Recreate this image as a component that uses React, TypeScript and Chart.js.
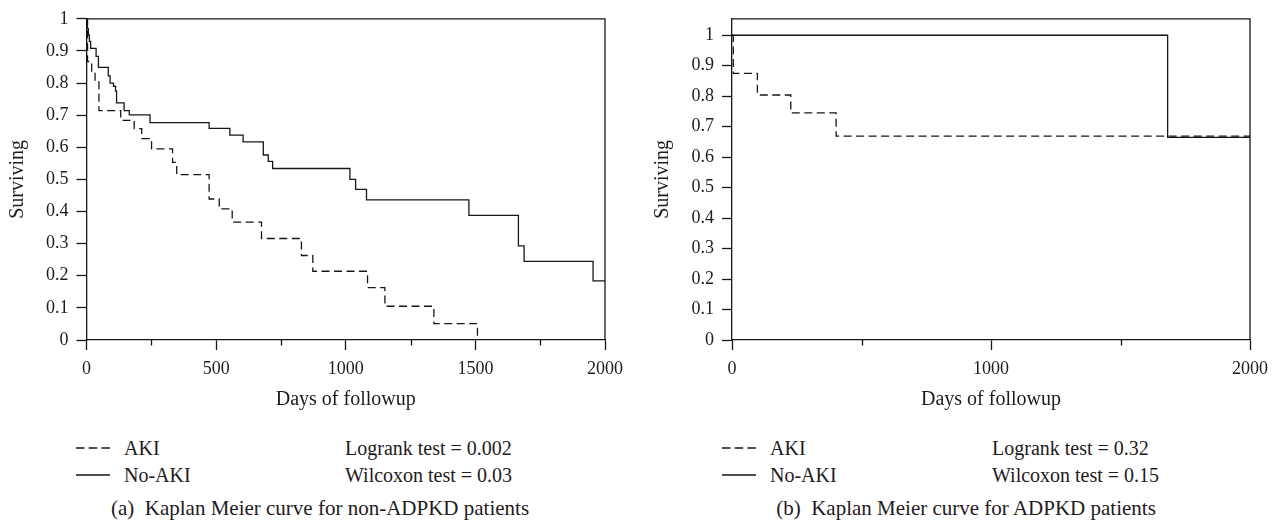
import React, { useEffect, useRef } from "react";
import { Chart, registerables } from "chart.js";
Chart.register(...registerables);

// ---------- Panel (a): non-ADPKD patients ----------
const A_AKI_DAYS = [0, 4, 20, 33, 48, 132, 184, 213, 251, 332, 348, 473, 512, 562, 675, 829, 873, 1084, 1151, 1340, 1508];
const A_AKI_SURV = [1, 0.867, 0.837, 0.808, 0.714, 0.684, 0.658, 0.627, 0.595, 0.553, 0.515, 0.439, 0.408, 0.367, 0.316, 0.263, 0.214, 0.163, 0.105, 0.051, 0];
const A_NOAKI_DAYS = [0, 3, 7, 11, 16, 37, 46, 84, 91, 104, 112, 116, 145, 165, 245, 473, 553, 604, 682, 701, 718, 1016, 1038, 1080, 1475, 1666, 1688, 1954, 2000];
const A_NOAKI_SURV = [1, 0.97, 0.95, 0.93, 0.908, 0.883, 0.849, 0.822, 0.8, 0.79, 0.775, 0.738, 0.714, 0.701, 0.677, 0.659, 0.638, 0.617, 0.576, 0.556, 0.534, 0.5, 0.469, 0.436, 0.388, 0.293, 0.245, 0.184, 0.184];
const A_X_MAJOR = [0, 500, 1000, 1500, 2000];
const A_X_MINOR = [250, 750, 1250, 1750];
const A_Y_MAX = 1;
const A_LOGRANK = "Logrank test = 0.002";
const A_WILCOXON = "Wilcoxon test = 0.03";
const A_CAPTION = "(a)\u00A0\u00A0Kaplan Meier curve for non-ADPKD patients";

// ---------- Panel (b): ADPKD patients ----------
const B_AKI_DAYS = [0, 5, 98, 227, 402, 2000];
const B_AKI_SURV = [1, 0.875, 0.804, 0.745, 0.669, 0.669];
const B_NOAKI_DAYS = [0, 1682, 2000];
const B_NOAKI_SURV = [1, 0.665, 0.665];
const B_X_MAJOR = [0, 1000, 2000];
const B_X_MINOR = [500, 1500];
const B_Y_MAX = 1.054;
const B_LOGRANK = "Logrank test = 0.32";
const B_WILCOXON = "Wilcoxon test = 0.15";
const B_CAPTION = "(b)\u00A0\u00A0Kaplan Meier curve for ADPKD patients";

// ---------- shared ----------
const Y_TICKS = [0, 0.1, 0.2, 0.3, 0.4, 0.5, 0.6, 0.7, 0.8, 0.9, 1];
const SERIES_NAMES = ["AKI", "No-AKI"];
const X_TITLE = "Days of followup";
const Y_TITLE = "Surviving";

const FONT = "'Liberation Serif', 'Times New Roman', serif";
const TEXT = "#1f1b1c";
const LINE = "#161616";
const DASH = [8, 4.5];

function toPoints(xs: number[], ys: number[]) {
  return xs.map((x, i) => ({ x, y: ys[i] }));
}

type PanelProps = {
  left: number;
  akiDays: number[];
  akiSurv: number[];
  noDays: number[];
  noSurv: number[];
  xMajor: number[];
  xMinor: number[];
  yMax: number;
  yAxisWidth: number;
  padRight: number;
  yTitlePad: number;
};

const W = 640;
const H = 420;

function Panel(p: PanelProps) {
  const ref = useRef<HTMLCanvasElement | null>(null);
  useEffect(() => {
    if (!ref.current) return;
    const framePlugin = {
      id: "frame",
      afterDraw(chart: any) {
        const { ctx, chartArea } = chart;
        const xs = chart.scales.x;
        ctx.save();
        ctx.strokeStyle = LINE;
        ctx.lineWidth = 1.3;
        ctx.beginPath();
        ctx.moveTo(chartArea.left, chartArea.top);
        ctx.lineTo(chartArea.right, chartArea.top);
        ctx.lineTo(chartArea.right, chartArea.bottom);
        ctx.stroke();
        for (const v of p.xMinor) {
          const px = Math.round(xs.getPixelForValue(v)) + 0.5;
          ctx.beginPath();
          ctx.moveTo(px, chartArea.bottom);
          ctx.lineTo(px, chartArea.bottom + 5.5);
          ctx.stroke();
        }
        ctx.restore();
      },
    };
    const chart = new Chart(ref.current, {
      type: "line",
      data: {
        datasets: [
          {
            label: SERIES_NAMES[0],
            data: toPoints(p.akiDays, p.akiSurv),
            borderColor: LINE,
            borderWidth: 1.3,
            borderDash: DASH,
            stepped: true,
            pointRadius: 0,
            fill: false,
          },
          {
            label: SERIES_NAMES[1],
            data: toPoints(p.noDays, p.noSurv),
            borderColor: LINE,
            borderWidth: 1.3,
            stepped: true,
            pointRadius: 0,
            fill: false,
          },
        ],
      },
      options: {
        animation: false,
        responsive: false,
        maintainAspectRatio: false,
        layout: { padding: { left: 0, top: 13, right: p.padRight, bottom: 0 } },
        plugins: { legend: { display: false }, tooltip: { enabled: false } },
        scales: {
          x: {
            type: "linear",
            min: 0,
            max: 2000,
            afterBuildTicks: (s: any) => {
              s.ticks = p.xMajor.map((v) => ({ value: v }));
            },
            afterFit: (s: any) => {
              s.height = H - 340;
            },
            ticks: {
              color: TEXT,
              font: { family: FONT, size: 18 },
              padding: 8,
              maxRotation: 0,
              autoSkip: false,
              callback: (v: any) => String(v),
            },
            grid: {
              display: true,
              drawOnChartArea: false,
              drawTicks: true,
              tickLength: 10,
              tickColor: LINE,
              tickWidth: 1.3,
            },
            border: { display: true, color: LINE, width: 1.3 },
            title: {
              display: true,
              text: X_TITLE,
              color: TEXT,
              font: { family: FONT, size: 20 },
              padding: { top: 0, bottom: 8 },
            },
          },
          y: {
            type: "linear",
            min: 0,
            max: p.yMax,
            afterBuildTicks: (s: any) => {
              s.ticks = Y_TICKS.map((v) => ({ value: v }));
            },
            afterFit: (s: any) => {
              s.width = p.yAxisWidth;
            },
            ticks: {
              color: TEXT,
              font: { family: FONT, size: 18 },
              padding: 8,
              autoSkip: false,
              callback: (v: any) => String(Math.round(Number(v) * 10) / 10),
            },
            grid: {
              display: true,
              drawOnChartArea: false,
              drawTicks: true,
              tickLength: 10,
              tickColor: LINE,
              tickWidth: 1.3,
            },
            border: { display: true, color: LINE, width: 1.3 },
            title: {
              display: true,
              text: Y_TITLE,
              color: TEXT,
              font: { family: FONT, size: 20 },
              padding: { top: p.yTitlePad, bottom: 0 },
            },
          },
        },
      } as any,
      plugins: [framePlugin],
    });
    return () => chart.destroy();
  }, []);
  return (
    <canvas
      ref={ref}
      width={W}
      height={H}
      style={{ position: "absolute", left: p.left, top: 0, width: W, height: H }}
    />
  );
}

function LegendRow(props: { left: number; top: number; dashed: boolean; name: string; stat: string; statLeft: number }) {
  const { left, top, dashed, name, stat, statLeft } = props;
  const base: React.CSSProperties = {
    position: "absolute",
    top: top - 12,
    height: 24,
    lineHeight: "24px",
    fontFamily: FONT,
    fontSize: 20,
    color: TEXT,
    whiteSpace: "nowrap",
  };
  return (
    <>
      <svg style={{ position: "absolute", left, top: top - 2, width: 36, height: 4 }} width={36} height={4}>
        <line
          x1={0}
          y1={2}
          x2={34}
          y2={2}
          stroke={LINE}
          strokeWidth={1.3}
          strokeDasharray={dashed ? "8.5 4.2" : undefined}
        />
      </svg>
      <div style={{ ...base, left: left + 48 }}>{name}</div>
      <div style={{ ...base, left: statLeft }}>{stat}</div>
    </>
  );
}

function Caption(props: { center: number; text: string }) {
  return (
    <div
      style={{
        position: "absolute",
        left: props.center - 300,
        width: 600,
        top: 508 - 13,
        height: 26,
        lineHeight: "26px",
        textAlign: "center",
        fontFamily: FONT,
        fontSize: 21,
        color: TEXT,
        whiteSpace: "nowrap",
      }}
    >
      {props.text}
    </div>
  );
}

export default function App() {
  return (
    <div
      style={{
        position: "absolute",
        left: 0,
        top: 0,
        width: 1280,
        height: 522,
        background: "#ffffff",
        overflow: "hidden",
      }}
    >
      <Panel
        left={0}
        akiDays={A_AKI_DAYS}
        akiSurv={A_AKI_SURV}
        noDays={A_NOAKI_DAYS}
        noSurv={A_NOAKI_SURV}
        xMajor={A_X_MAJOR}
        xMinor={A_X_MINOR}
        yMax={A_Y_MAX}
        yAxisWidth={86.5}
        padRight={35}
        yTitlePad={5.5}
      />
      <Panel
        left={640}
        akiDays={B_AKI_DAYS}
        akiSurv={B_AKI_SURV}
        noDays={B_NOAKI_DAYS}
        noSurv={B_NOAKI_SURV}
        xMajor={B_X_MAJOR}
        xMinor={B_X_MINOR}
        yMax={B_Y_MAX}
        yAxisWidth={92}
        padRight={30}
        yTitlePad={11}
      />
      <LegendRow left={76} top={448} dashed={true} name={SERIES_NAMES[0]} stat={A_LOGRANK} statLeft={345} />
      <LegendRow left={76} top={475} dashed={false} name={SERIES_NAMES[1]} stat={A_WILCOXON} statLeft={345} />
      <Caption center={320} text={A_CAPTION} />
      <LegendRow left={722} top={448} dashed={true} name={SERIES_NAMES[0]} stat={B_LOGRANK} statLeft={992} />
      <LegendRow left={722} top={475} dashed={false} name={SERIES_NAMES[1]} stat={B_WILCOXON} statLeft={992} />
      <Caption center={966} text={B_CAPTION} />
    </div>
  );
}
